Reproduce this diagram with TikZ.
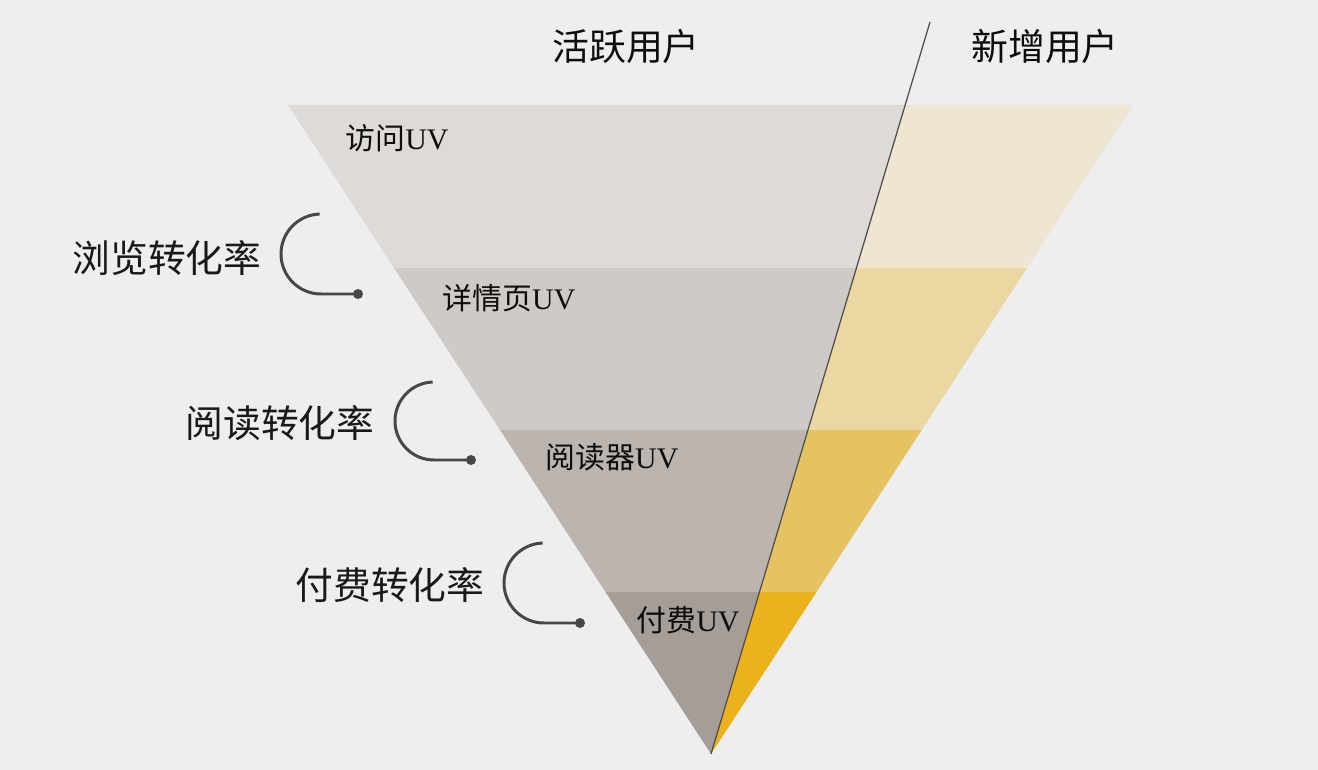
\documentclass[tikz,border=0pt]{standalone}
\usepackage{fontspec}
\setmainfont{Liberation Serif}
\newfontfamily\cjk{Noto Sans CJK SC}
\definecolor{bg}{HTML}{EFEEEF}
\definecolor{gA}{HTML}{DDDAD7}
\definecolor{gB}{HTML}{D0CAC6}
\definecolor{gC}{HTML}{BCB4AF}
\definecolor{gD}{HTML}{A59D98}
\definecolor{yA}{HTML}{EEE5D3}
\definecolor{yB}{HTML}{EBD7A2}
\definecolor{yC}{HTML}{E6C362}
\definecolor{yD}{HTML}{ECB21C}
\definecolor{hookgray}{HTML}{474747}
\tikzset{
  title/.style={font=\cjk\fontsize{21}{24}\selectfont, text=black!95},
  rate/.style={font=\cjk\fontsize{21.5}{24}\selectfont, text=black!90},
  uv/.style={font=\fontsize{17}{20}\selectfont, text=black!95},
  hook/.style={draw=hookgray, line width=1.7pt},
  divider/.style={draw=black!70, line width=0.7pt},
}
\begin{document}
\begin{tikzpicture}[x=0.02cm,y=-0.02cm]
\fill[bg] (0,0) rectangle (1318,770);
\useasboundingbox (0,0) rectangle (1318,770);
\coordinate (tl) at (288,105);
\coordinate (tr) at (1133,105);
\coordinate (apex) at (711,754);
\coordinate (top) at (930,22);
% Active users, gray bands
\fill[gA] (tl) -- (905,105) -- (856,268) -- (394,268) -- cycle;
\fill[gB] (394,268) -- (856,268) -- (807.6,430) -- (500,430) -- cycle;
\fill[gC] (500,430) -- (807.6,430) -- (759,592) -- (605.5,592) -- cycle;
\fill[gD] (605.5,592) -- (759,592) -- (apex) -- cycle;
% New users, yellow bands
\fill[yA] (905,105) -- (tr) -- (1027,268) -- (856,268) -- cycle;
\fill[yB] (856,268) -- (1027,268) -- (921.7,430) -- (807.6,430) -- cycle;
\fill[yC] (807.6,430) -- (921.7,430) -- (816.5,592) -- (759,592) -- cycle;
\fill[yD] (759,592) -- (816.5,592) -- (apex) -- cycle;
\draw[divider] (top) -- (apex);
% Titles
\node[title] (active) at (626,47) {活跃用户};
\node[title] (new) at (1045,47) {新增用户};
% Stage labels
\node[uv] (visit) at (397,138) {{\cjk 访问}UV};
\node[uv] (detail) at (509,298) {{\cjk 详情页}UV};
\node[uv] (reader) at (612,457) {{\cjk 阅读器}UV};
\node[uv] (paid) at (688,620) {{\cjk 付费}UV};
% Conversion rates
\node[rate] (browse) at (167,258) {浏览转化率};
\node[rate] (read) at (280,423) {阅读转化率};
\node[rate] (pay) at (390,585) {付费转化率};
% Hooks
\coordinate (dotA) at (358,294);
\coordinate (dotB) at (471,460);
\coordinate (dotC) at (580,623);
\draw[hook] (dotA) -- ++(-37,0) arc[start angle=90, end angle=268, radius=40];
\draw[hook] (dotB) -- ++(-37,0) arc[start angle=90, end angle=268, radius=39];
\draw[hook] (dotC) -- ++(-36,0) arc[start angle=90, end angle=268, radius=40];
\fill[hookgray] (dotA) circle[radius=5];
\fill[hookgray] (dotB) circle[radius=5];
\fill[hookgray] (dotC) circle[radius=5];
\end{tikzpicture}
\end{document}
